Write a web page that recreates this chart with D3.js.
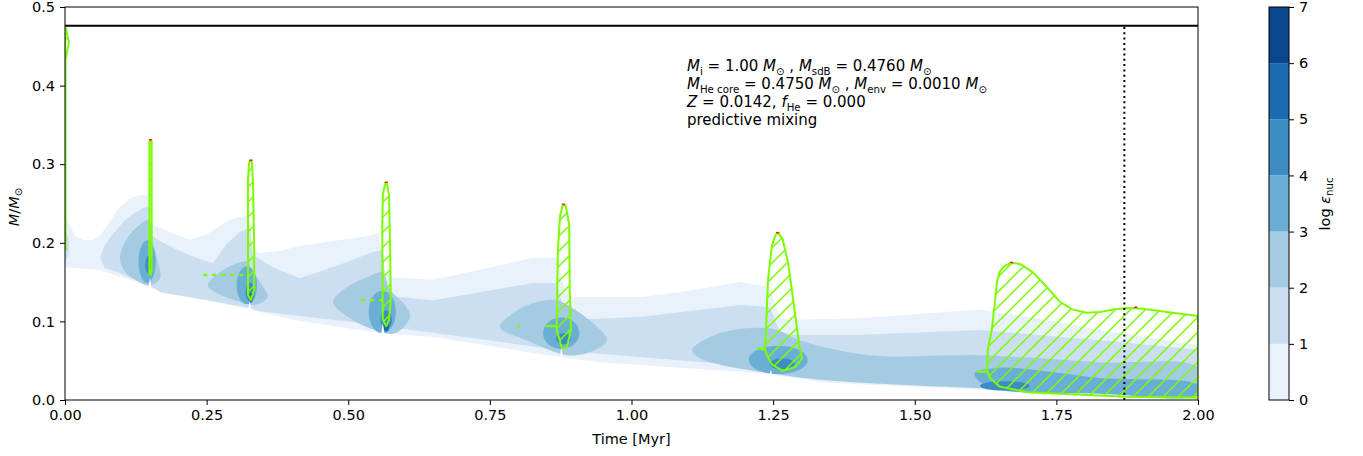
<!DOCTYPE html>
<html><head><meta charset="utf-8">
<script src="https://cdn.jsdelivr.net/npm/d3@7"></script>
<style>
body{margin:0;background:#fff;}
text{font-family:"DejaVu Sans",sans-serif;fill:#000;}
</style></head>
<body><svg id="c" width="1363" height="456"></svg>
<script>
// ---------------- data (time [Myr], mass [Msun]) ----------------
const xTicks = [0, 0.25, 0.5, 0.75, 1.0, 1.25, 1.5, 1.75, 2.0];
const yTicks = [0, 0.1, 0.2, 0.3, 0.4, 0.5];
const cbLevels = [0, 1, 2, 3, 4, 5, 6, 7];
const cbColors = ["#e9f2fa", "#cbdff0", "#a5cbe3", "#6aaed6", "#3d8dc4", "#1c6aaf", "#0a468c"];
const totalMass = 0.476;
const dotTime = 1.87;

// level 0 (0-1) region
const lev0 = [[0,0.238],[0.005,0.226],[0.018,0.209],[0.032,0.204],[0.045,0.203],[0.062,0.209],[0.080,0.228],[0.097,0.246],[0.115,0.256],[0.132,0.261],[0.147,0.260],[0.152,0.223],[0.168,0.219],[0.195,0.211],[0.221,0.204],[0.250,0.211],[0.291,0.230],[0.323,0.235],[0.330,0.191],[0.344,0.187],[0.380,0.190],[0.415,0.196],[0.470,0.202],[0.521,0.207],[0.553,0.212],[0.565,0.163],[0.577,0.156],[0.650,0.153],[0.740,0.167],[0.826,0.181],[0.868,0.181],[0.884,0.136],[0.897,0.131],[1.020,0.131],[1.110,0.140],[1.192,0.150],[1.244,0.144],[1.262,0.104],[1.285,0.102],[1.403,0.104],[1.615,0.115],[1.650,0.111],[1.750,0.100],[1.827,0.089],[2.0,0.070],
  [2.0,0.006],[1.827,0.009],[1.615,0.013],[1.345,0.022],[1.227,0.034],[0.944,0.048],[0.868,0.055],[0.650,0.080],[0.561,0.085],[0.521,0.089],[0.402,0.102],[0.327,0.115],[0.226,0.131],[0.150,0.142],[0.132,0.149],[0.062,0.165],[0,0.169]];
// level 1 (1-2) region
const lev1 = [[0.062,0.181],[0.070,0.197],[0.083,0.210],[0.106,0.229],[0.125,0.239],[0.138,0.244],[0.148,0.247],[0.154,0.209],[0.168,0.202],[0.195,0.192],[0.221,0.184],[0.261,0.174],[0.285,0.198],[0.309,0.214],[0.327,0.219],[0.332,0.184],[0.370,0.168],[0.415,0.155],[0.485,0.172],[0.542,0.188],[0.561,0.191],[0.567,0.140],[0.577,0.132],[0.650,0.127],[0.740,0.138],[0.826,0.149],[0.868,0.149],[0.884,0.104],[0.897,0.102],[1.020,0.106],[1.110,0.114],[1.192,0.121],[1.244,0.118],[1.262,0.087],[1.285,0.083],[1.403,0.083],[1.615,0.089],[1.827,0.076],[2.0,0.064],
  [2.0,0.013],[1.827,0.015],[1.615,0.022],[1.345,0.032],[1.227,0.042],[0.944,0.059],[0.868,0.064],[0.561,0.094],[0.521,0.098],[0.344,0.113],[0.321,0.118],[0.168,0.137],[0.150,0.146],[0.132,0.150],[0.092,0.163],[0.070,0.168]];
const lev1b = [[0.001,0.215],[0.006,0.205],[0.006,0.185],[0.001,0.178]];
// level 2 (2-3) regions
const lev2a = [[0.097,0.181],[0.108,0.204],[0.129,0.221],[0.147,0.229],[0.154,0.204],[0.164,0.176],[0.168,0.155],[0.150,0.146],[0.124,0.153],[0.104,0.165]];
const lev2b = [[0.252,0.146],[0.274,0.163],[0.300,0.173],[0.321,0.176],[0.330,0.165],[0.348,0.146],[0.358,0.131],[0.335,0.121],[0.300,0.127],[0.265,0.137]];
const lev2c = [[0.473,0.125],[0.503,0.146],[0.533,0.156],[0.560,0.162],[0.574,0.140],[0.600,0.121],[0.609,0.106],[0.583,0.085],[0.547,0.089],[0.503,0.104]];
const lev2d = [[0.768,0.093],[0.794,0.112],[0.826,0.123],[0.868,0.127],[0.900,0.115],[0.936,0.095],[0.957,0.076],[0.927,0.061],[0.886,0.057],[0.821,0.074]];
const lev2e = [[1.107,0.064],[1.139,0.080],[1.179,0.089],[1.227,0.092],[1.257,0.089],[1.297,0.076],[1.421,0.057],[1.615,0.057],[1.827,0.048],[2.0,0.041],
  [2.0,0.009],[1.827,0.011],[1.615,0.015],[1.345,0.025],[1.227,0.036],[1.156,0.045],[1.121,0.053]];
// level 3..5 blobs: [centre time, centre mass, half-width time, half-height mass]
const lev3blobs = [[0.145,0.176,0.015,0.027],[0.321,0.146,0.018,0.024],[0.560,0.112,0.024,0.027],[0.876,0.085,0.032,0.020],[1.259,0.051,0.052,0.018]];
const lev3band = [[1.606,0.034],[1.650,0.041],[1.739,0.036],[1.827,0.028],[2.0,0.019],[2.0,0.006],[1.827,0.008],[1.650,0.013],[1.612,0.025]];
const lev4blobs = [[0.148,0.172,0.006,0.012],[0.327,0.137,0.008,0.012],[0.567,0.102,0.010,0.012],[0.880,0.078,0.013,0.007],[1.266,0.046,0.022,0.007],[1.659,0.018,0.044,0.006]];
const lev5blobs = [[0.328,0.130,0.004,0.006],[0.567,0.093,0.005,0.006]];
// unburnt notches below each flash: [time, bottom mass, top mass]
const notches = [[0.150,0.141,0.156],[0.326,0.114,0.127],[0.561,0.084,0.098],[0.876,0.054,0.066],[1.246,0.028,0.039]];

// convective (mixing) zones
const conv0 = [[0.001,0.191],[0.001,0.318],[0.001,0.433],[0.005,0.448],[0.007,0.455],[0.004,0.464],[0.002,0.473],[0.0,0.473],[0.0,0.191]];
const conv1 = [[0.149,0.160],[0.149,0.328],[0.151,0.331],[0.153,0.328],[0.153,0.165],[0.151,0.159]];
const conv2 = [[0.323,0.134],[0.323,0.280],[0.325,0.302],[0.328,0.305],[0.330,0.302],[0.332,0.274],[0.334,0.191],[0.334,0.140],[0.328,0.127]];
const conv3 = [[0.561,0.102],[0.560,0.216],[0.561,0.261],[0.565,0.275],[0.568,0.276],[0.572,0.261],[0.574,0.191],[0.575,0.127],[0.572,0.102],[0.567,0.094]];
const conv4 = [[0.868,0.089],[0.870,0.191],[0.874,0.235],[0.879,0.248],[0.884,0.247],[0.890,0.223],[0.891,0.140],[0.893,0.089],[0.886,0.067],[0.877,0.066]];
const conv5 = [[1.236,0.064],[1.241,0.153],[1.248,0.197],[1.255,0.211],[1.260,0.212],[1.267,0.204],[1.276,0.176],[1.282,0.146],[1.289,0.108],[1.296,0.070],[1.301,0.053],[1.289,0.042],[1.267,0.037],[1.248,0.045],[1.239,0.057]];
const conv6 = [[1.628,0.036],[1.629,0.064],[1.636,0.089],[1.640,0.115],[1.642,0.127],[1.645,0.150],[1.650,0.163],[1.656,0.169],[1.668,0.174],[1.679,0.174],[1.689,0.172],[1.709,0.162],[1.733,0.144],[1.756,0.125],[1.779,0.115],[1.804,0.111],[1.827,0.112],[1.850,0.115],[1.875,0.117],[1.903,0.116],[1.945,0.112],[2.0,0.107],
  [2.0,0.003],[1.875,0.004],[1.815,0.006],[1.698,0.010],[1.650,0.017],[1.633,0.028]];
const convLines = [
  {pts:[[0.244,0.159],[0.323,0.159]], dash:"4,5"},
  {pts:[[0.523,0.127],[0.560,0.127]], dash:"4,5"},
  {pts:[[0.798,0.094],[0.803,0.094]], dash:null},
  {pts:[[0.849,0.094],[0.868,0.094]], dash:null},
  {pts:[[1.222,0.066],[1.236,0.064]], dash:null},
  {pts:[[1.610,0.036],[1.628,0.036]], dash:null}
];
// burning tips (red)
const redTips = [[0.151,0.331],[0.328,0.305],[0.567,0.277],[0.880,0.249],[1.258,0.213],[1.671,0.175],[1.890,0.118]];

// ---------------- drawing ----------------
const svg = d3.select("#c");
const M = {l:65, r:1198, t:7, b:400};
const x = d3.scaleLinear().domain([0,2]).range([M.l, M.r]);
const y = d3.scaleLinear().domain([0,0.5]).range([M.b, M.t]);
const line = d3.line().x(d=>x(d[0])).y(d=>y(d[1]));
const closed = d3.line().x(d=>x(d[0])).y(d=>y(d[1])).curve(d3.curveLinearClosed);
const smooth = d3.line().x(d=>x(d[0])).y(d=>y(d[1])).curve(d3.curveCatmullRomClosed.alpha(0.5));

function ell(b){ const pts=[]; for(let i=0;i<48;i++){const a=i/48*2*Math.PI; pts.push([b[0]+b[2]*Math.cos(a), b[1]+b[3]*Math.sin(a)]);} return pts; }

const defs = svg.append("defs");
defs.append("clipPath").attr("id","clip").append("rect").attr("x",M.l).attr("y",M.t).attr("width",M.r-M.l).attr("height",M.b-M.t);
const pat = defs.append("pattern").attr("id","hatch").attr("patternUnits","userSpaceOnUse").attr("width",15).attr("height",15);
pat.append("path").attr("d","M0,15 L15,0 M-4,4 L4,-4 M11,19 L19,11").attr("stroke","#7cfc00").attr("stroke-width",1.5);

const g = svg.append("g").attr("clip-path","url(#clip)");
g.append("path").attr("d",closed(lev0)).attr("fill",cbColors[0]);
g.append("path").attr("d",closed(lev1)).attr("fill",cbColors[1]);
g.append("path").attr("d",smooth(lev1b)).attr("fill",cbColors[1]);
[lev2a,lev2b,lev2c,lev2d,lev2e].forEach(p=>g.append("path").attr("d",smooth(p)).attr("fill",cbColors[2]));
lev3blobs.forEach(b=>g.append("path").attr("d",closed(ell(b))).attr("fill",cbColors[3]));
g.append("path").attr("d",smooth(lev3band)).attr("fill",cbColors[3]);
lev4blobs.forEach(b=>g.append("path").attr("d",closed(ell(b))).attr("fill",cbColors[4]));
lev5blobs.forEach(b=>g.append("path").attr("d",closed(ell(b))).attr("fill",cbColors[5]));
notches.forEach(n=>g.append("path").attr("d",closed([[n[0]-0.003,n[1]],[n[0],n[2]],[n[0]+0.003,n[1]]])).attr("fill","#fff"));

[conv0,conv1,conv2,conv3,conv4,conv5,conv6].forEach(p=>{
  g.append("path").attr("d",closed(p)).attr("fill","url(#hatch)").attr("stroke","#7cfc00").attr("stroke-width",2).attr("stroke-linejoin","round");
});
convLines.forEach(c=>g.append("path").attr("d",line(c.pts)).attr("fill","none").attr("stroke","#7cfc00").attr("stroke-width",2.5).attr("stroke-dasharray",c.dash));
redTips.forEach(p=>g.append("path").attr("d",line([[p[0]-0.003,p[1]],[p[0]+0.003,p[1]]])).attr("stroke","#ff2020").attr("stroke-width",1.5));

// total mass & dotted line
svg.append("path").attr("d",line([[0,totalMass],[2,totalMass]])).attr("stroke","#000").attr("stroke-width",2);
svg.append("path").attr("d",line([[dotTime,0],[dotTime,totalMass]])).attr("stroke","#000").attr("stroke-width",2).attr("stroke-dasharray","2,3.3");

// axes
const fs = 14.5;
const xa = svg.append("g").attr("transform",`translate(0,${M.b})`).call(d3.axisBottom(x).tickValues(xTicks).tickFormat(d3.format(".2f")).tickSize(5).tickPadding(5));
const ya = svg.append("g").attr("transform",`translate(${M.l},0)`).call(d3.axisLeft(y).tickValues(yTicks).tickFormat(d3.format(".1f")).tickSize(5).tickPadding(5));
[xa,ya].forEach(a=>{a.select(".domain").remove(); a.selectAll("text").attr("font-size",fs).attr("font-family","DejaVu Sans").attr("fill","#000"); a.selectAll("line").attr("stroke","#000");});
svg.append("rect").attr("x",M.l).attr("y",M.t).attr("width",M.r-M.l).attr("height",M.b-M.t).attr("fill","none").attr("stroke","#000").attr("stroke-width",1);

svg.append("text").attr("x",(M.l+M.r)/2).attr("y",444).attr("text-anchor","middle").attr("font-size",fs).text("Time [Myr]");
const yl = svg.append("text").attr("transform","translate(19,207) rotate(-90)").attr("text-anchor","middle").attr("font-size",fs);
yl.append("tspan").attr("font-style","italic").text("M");
yl.append("tspan").text("/");
yl.append("tspan").attr("font-style","italic").text("M");
yl.append("tspan").attr("font-size",fs*0.7).attr("dy",3).text("⊙");

// annotation
const ax0 = 687, fa = 15;
function mtext(yy, segs){
  const t = svg.append("text").attr("x",ax0).attr("y",yy).attr("font-size",fa);
  let off = 0;
  segs.forEach(p=>{
    const s = t.append("tspan").text(p.t);
    if(p.i) s.attr("font-style","italic");
    const want = p.sub ? 3.5 : 0;
    if(p.sub) s.attr("font-size",fa*0.68);
    if(want!==off){ s.attr("dy",want-off); off=want; }
  });
}
mtext(71,[{t:"M",i:1},{t:"i",sub:1},{t:" = 1.00 "},{t:"M",i:1},{t:"⊙",sub:1},{t:" , "},{t:"M",i:1},{t:"sdB",sub:1},{t:" = 0.4760 "},{t:"M",i:1},{t:"⊙",sub:1}]);
mtext(89,[{t:"M",i:1},{t:"He core",sub:1},{t:" = 0.4750 "},{t:"M",i:1},{t:"⊙",sub:1},{t:" , "},{t:"M",i:1},{t:"env",sub:1},{t:" = 0.0010 "},{t:"M",i:1},{t:"⊙",sub:1}]);
mtext(107,[{t:"Z",i:1},{t:" = 0.0142,  "},{t:"f",i:1},{t:"He",sub:1},{t:" = 0.000"}]);
mtext(125,[{t:"predictive mixing"}]);

// colorbar
const cb = {x:1269, w:20};
const cy = d3.scaleLinear().domain([0,7]).range([M.b, M.t]);
const cg = svg.append("g");
cbColors.forEach((c,i)=>cg.append("rect").attr("x",cb.x).attr("width",cb.w).attr("y",cy(cbLevels[i+1])).attr("height",cy(cbLevels[i])-cy(cbLevels[i+1])).attr("fill",c));
cg.append("rect").attr("x",cb.x).attr("width",cb.w).attr("y",M.t).attr("height",M.b-M.t).attr("fill","none").attr("stroke","#000").attr("stroke-width",1);
const ca = svg.append("g").attr("transform",`translate(${cb.x+cb.w},0)`).call(d3.axisRight(cy).tickValues(cbLevels).tickFormat(d3.format("d")).tickSize(5).tickPadding(5));
ca.select(".domain").remove(); ca.selectAll("text").attr("font-size",fs).attr("font-family","DejaVu Sans").attr("fill","#000"); ca.selectAll("line").attr("stroke","#000");
const cl = svg.append("text").attr("transform","translate(1330,204) rotate(-90)").attr("text-anchor","middle").attr("font-size",fs);
cl.append("tspan").text("log ");
cl.append("tspan").attr("font-style","italic").text("ε");
cl.append("tspan").attr("font-size",fs*0.7).attr("dy",3).text("nuc");
</script></body></html>
